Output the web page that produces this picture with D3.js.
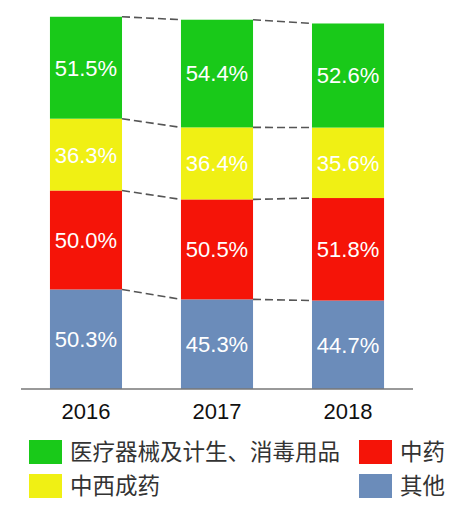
<!DOCTYPE html>
<html>
<head>
<meta charset="utf-8">
<script src="https://cdn.jsdelivr.net/npm/d3@7"></script>
<style>
  html, body { margin: 0; padding: 0; background: #fff; }
  svg { display: block; }
</style>
</head>
<body>
<svg id="chart" width="457" height="509"></svg>
<script>
const years = ["2016", "2017", "2018"];
const seriesNames = ["其他", "中药", "中西成药", "医疗器械及计生、消毒用品"];
const otherValues = [50.3, 45.3, 44.7];
const tcmValues = [50.0, 50.5, 51.8];
const patentValues = [36.3, 36.4, 35.6];
const deviceValues = [51.5, 54.4, 52.6];
const seriesColors = ["#6b8cba", "#f51408", "#f0f014", "#19c919"];

const rows = years.map((yr, i) => ({
  year: yr,
  "其他": otherValues[i],
  "中药": tcmValues[i],
  "中西成药": patentValues[i],
  "医疗器械及计生、消毒用品": deviceValues[i]
}));

const svg = d3.select("#chart");
const x = d3.scaleBand().domain(years).range([21, 413]).paddingInner(0.45).paddingOuter(0.221);
const y = d3.scaleLinear().domain([0, 190]).range([389, 13]);
const bw = x.bandwidth();

const stack = d3.stack().keys(seriesNames);
const layers = stack(rows);

// bars
const g = svg.append("g");
layers.forEach((layer, li) => {
  g.selectAll(null).data(layer).enter().append("rect")
    .attr("x", d => x(d.data.year))
    .attr("y", d => y(d[1]))
    .attr("width", bw)
    .attr("height", d => y(d[0]) - y(d[1]))
    .attr("fill", seriesColors[li]);
  g.selectAll(null).data(layer).enter().append("text")
    .attr("x", d => x(d.data.year) + bw / 2)
    .attr("y", d => (y(d[0]) + y(d[1])) / 2)
    .attr("dy", "0.36em")
    .attr("text-anchor", "middle")
    .attr("fill", "#fff")
    .attr("font-family", "'Liberation Sans', Arial, sans-serif")
    .attr("font-size", 22)
    .text(d => (d[1] - d[0]).toFixed(1) + "%");
});

// dashed connectors at top of each layer
layers.forEach(layer => {
  for (let i = 0; i < layer.length - 1; i++) {
    const a = layer[i], b = layer[i + 1];
    svg.append("line")
      .attr("x1", x(a.data.year) + bw).attr("y1", y(a[1]))
      .attr("x2", x(b.data.year)).attr("y2", y(b[1]))
      .attr("stroke", "#555").attr("stroke-width", 1.6)
      .attr("stroke-dasharray", "8,4");
  }
});

// axis
const xAxis = svg.append("g").attr("transform", "translate(0,389)")
  .call(d3.axisBottom(x).tickSize(0).tickPadding(14));
xAxis.select(".domain").attr("stroke", "#777").attr("stroke-width", 1.5)
  .attr("d", "M21,0H413");
xAxis.selectAll("text")
  .attr("font-family", "'Liberation Sans', Arial, sans-serif")
  .attr("font-size", 22)
  .attr("fill", "#111");

// legend
const legendItems = [
  { name: seriesNames[3], color: seriesColors[3], x: 29, y: 440 },
  { name: seriesNames[1], color: seriesColors[1], x: 359, y: 440 },
  { name: seriesNames[2], color: seriesColors[2], x: 29, y: 474 },
  { name: seriesNames[0], color: seriesColors[0], x: 359, y: 474 }
];
const lg = svg.append("g");
legendItems.forEach(it => {
  lg.append("rect").attr("x", it.x).attr("y", it.y).attr("width", 33).attr("height", 24).attr("fill", it.color);
  lg.append("text").attr("x", it.x + 41).attr("y", it.y + 12).attr("dy", "0.36em")
    .attr("font-family", "'Noto Sans CJK SC', sans-serif")
    .attr("font-size", 22.5)
    .attr("fill", "#333")
    .text(it.name);
});
</script>
</body>
</html>
